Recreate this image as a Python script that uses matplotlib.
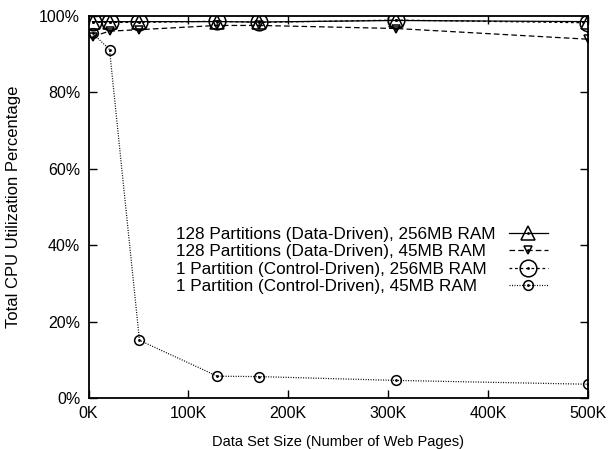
import matplotlib
matplotlib.use("Agg")
import matplotlib.pyplot as plt
from matplotlib.legend_handler import HandlerTuple

plt.rcParams['font.family'] = ['Liberation Sans', 'DejaVu Sans']

# Data set size in thousands of web pages
sizes_k = [4, 21, 51, 129, 171, 308, 500]

labels = [
    "128 Partitions (Data-Driven), 256MB RAM",
    "128 Partitions (Data-Driven), 45MB RAM",
    "1 Partition (Control-Driven), 256MB RAM",
    "1 Partition (Control-Driven), 45MB RAM",
]
dd_256 = [98.5, 98.5, 98.5, 98.5, 98.4, 98.8, 98.5]
dd_45 = [94.6, 96.0, 96.4, 97.5, 97.5, 96.7, 93.9]
cd_256 = [98.3, 98.3, 98.3, 98.6, 98.3, 98.9, 98.2]
cd_45 = [95.5, 91.2, 15.1, 5.7, 5.6, 4.6, 3.6]

xticks = [0, 100, 200, 300, 400, 500]
xticklabels = ["0K", "100K", "200K", "300K", "400K", "500K"]
yticks = [0, 20, 40, 60, 80, 100]
yticklabels = ["0%", "20%", "40%", "60%", "80%", "100%"]

fig = plt.figure(figsize=(6.08, 4.49), dpi=100)
ax = fig.add_axes([0.1456, 0.1136, 0.8214, 0.851])

styles = [
    dict(ls='-', marker='^', ms=10.5),
    dict(ls=(0, (4.5, 2.5)), marker='v', ms=6),
    dict(ls=(0, (2.2, 2.2)), marker='o', ms=12),
    dict(ls=(0, (0.8, 1.2)), marker='o', ms=7),
]
series = [dd_256, dd_45, cd_256, cd_45]
handles = []
for vals, st in zip(series, styles):
    ln, = ax.plot(sizes_k, vals, color='black', lw=0.9, ls=st['ls'],
                  marker=st['marker'], ms=st['ms'], mfc='none', mec='black', mew=1.1)
    dot, = ax.plot(sizes_k, vals, ls='none', marker='.', ms=2, color='black')
    handles.append((ln, dot))

ax.set_xlim(0, 500)
ax.set_ylim(0, 100)
ax.set_xticks(xticks)
ax.set_xticklabels(xticklabels)
ax.set_yticks(yticks)
ax.set_yticklabels(yticklabels)
ax.tick_params(direction='in', length=6, width=1, top=True, right=True,
               labelsize=11.5, pad=6)
for sp in ax.spines.values():
    sp.set_linewidth(1.3)
ax.set_xlabel("Data Set Size (Number of Web Pages)", fontsize=10.5, labelpad=10)
ax.set_ylabel("Total CPU Utilization Percentage", fontsize=12, labelpad=13)

common = dict(frameon=False, fontsize=12.3, labelspacing=0.14, borderpad=0,
              borderaxespad=0, numpoints=1,
              handler_map={tuple: HandlerTuple(ndivide=1, pad=0)})
# text column (left aligned)
leg_text = ax.legend(handles, labels, loc='center left', bbox_to_anchor=(0.175, 0.36),
                     handlelength=0, handletextpad=0, **common)
ax.add_artist(leg_text)
# hide the sample artists of the text-only legend
for art in leg_text._legend_handle_box.findobj():
    if art not in leg_text.get_texts() and hasattr(art, 'get_marker'):
        art.set_visible(False)
# sample column (line + marker)
ax.legend(handles, [""] * len(labels), loc='center right', bbox_to_anchor=(0.92, 0.36),
          handlelength=2.3, handletextpad=0, **common)

fig.savefig("out.png", dpi=100)
